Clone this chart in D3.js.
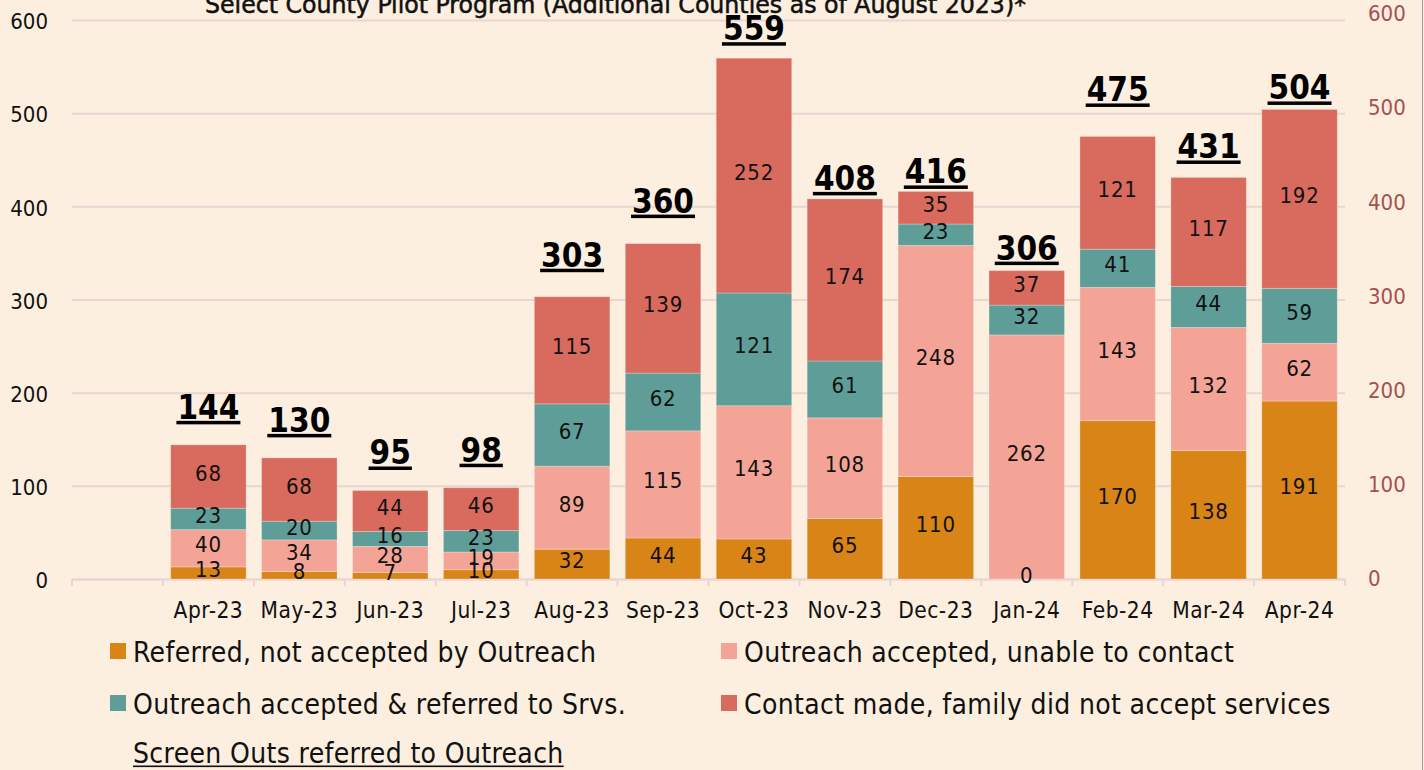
<!DOCTYPE html>
<html><head><meta charset="utf-8">
<script src="https://cdn.jsdelivr.net/npm/d3@7"></script>
<style>
body{margin:0;background:#fcefdf;}
svg{display:block}
text{font-family:'DejaVu Sans Condensed','DejaVu Sans',sans-serif;font-stretch:condensed;}
</style></head><body>
<svg id="chart" width="1424" height="770"></svg>
<script>
(function(){
// ---------- data ----------
const months = ["Apr-23","May-23","Jun-23","Jul-23","Aug-23","Sep-23","Oct-23","Nov-23","Dec-23","Jan-24","Feb-24","Mar-24","Apr-24"];
const referredNotAccepted = [13,8,7,10,32,44,43,65,110,0,170,138,191];
const acceptedUnableToContact = [40,34,28,19,89,115,143,108,248,262,143,132,62];
const acceptedReferredToSrvs = [23,20,16,23,67,62,121,61,23,32,41,44,59];
const contactNotAccepted = [68,68,44,46,115,139,252,174,35,37,121,117,192];
const screenOutTotals = [144,130,95,98,303,360,559,408,416,306,475,431,504];
const seriesNames = ["Referred, not accepted by Outreach","Outreach accepted, unable to contact","Outreach accepted & referred to Srvs.","Contact made, family did not accept services"];
const totalsName = "Screen Outs referred to Outreach";
const yTicks = [0,100,200,300,400,500,600];
const titleText = "Select County Pilot Program (Additional Counties as of August 2023)*";

// ---------- layout / style ----------
const colors = ["#d98416","#f4a496","#5f9e98","#d96a5e"];
const W = 1424, H = 770;
const pLeft = 72, pRight = 1345, pTop = 20, pBottom = 579;
const totalLift = [26,26,26,26,30,31,18,9,8,11,35,19,10]; // manual placement of total labels above bars

const svg = d3.select("#chart");
svg.append("rect").attr("width",W).attr("height",H).attr("fill","#fcefdf");

const x = d3.scaleBand().domain(["", ...months]).range([pLeft,pRight]).paddingInner(0.17).paddingOuter(0.085);
const y = d3.scaleLinear().domain([0,600]).range([pBottom,pTop]);
const yR = d3.scaleLinear().domain([0,600]).range([pBottom-1,13]);

// title (clipped at top)
svg.append("text").attr("x",205).attr("y",13).attr("font-size",24)
  .attr("fill","#111").attr("stroke","#111").attr("stroke-width",0.5)
  .attr("textLength",821).attr("lengthAdjust","spacingAndGlyphs").text(titleText);

// gridlines
svg.append("g").selectAll("line").data(yTicks).join("line")
  .attr("x1",pLeft).attr("x2",pRight).attr("y1",d=>y(d)+0.5).attr("y2",d=>y(d)+0.5)
  .attr("stroke","#ebd5d3").attr("stroke-width",2);

// left axis
const gL = svg.append("g").attr("transform",`translate(${pLeft},0)`)
  .call(d3.axisLeft(y).tickValues(yTicks).tickSize(0).tickPadding(24));
gL.select(".domain").remove();
gL.selectAll("text").attr("font-size",22).attr("fill","#111").attr("font-family","'DejaVu Sans Condensed','DejaVu Sans',sans-serif").attr("dy","0.4em");

// right axis
const gR = svg.append("g").attr("transform",`translate(${pRight},0)`)
  .call(d3.axisRight(yR).tickValues(yTicks).tickSize(0).tickPadding(23));
gR.select(".domain").remove();
gR.selectAll("text").attr("font-size",22).attr("fill","#a4514f").attr("font-family","'DejaVu Sans Condensed','DejaVu Sans',sans-serif").attr("dy","0.35em");

// x axis
const gX = svg.append("g").attr("transform",`translate(0,${pBottom})`)
  .call(d3.axisBottom(x).tickSize(0).tickPadding(23));
gX.select(".domain").attr("stroke","#ebd5d3").attr("stroke-width",2);
gX.selectAll("text").attr("font-size",22.5).attr("letter-spacing","0.5px").attr("fill","#111").attr("font-family","'DejaVu Sans Condensed','DejaVu Sans',sans-serif");
const boundaries = d3.range(0, x.domain().length+1).map(k => pLeft + k*x.step());
gX.selectAll(".bnd").data(boundaries).join("line").attr("class","bnd")
  .attr("x1",d=>d).attr("x2",d=>d).attr("y1",0).attr("y2",7).attr("stroke","#ebd5d3").attr("stroke-width",2);

// stacked bars
const rows = months.map((m,i)=>({month:m, s0:referredNotAccepted[i], s1:acceptedUnableToContact[i], s2:acceptedReferredToSrvs[i], s3:contactNotAccepted[i], total:screenOutTotals[i], i}));
const keys = ["s0","s1","s2","s3"];
const stack = d3.stack().keys(keys)(rows);

const gBars = svg.append("g");
stack.forEach((layer,k)=>{
  gBars.append("g").selectAll("rect").data(layer).join("rect")
    .attr("x",d=>x(d.data.month)).attr("width",x.bandwidth())
    .attr("y",d=>y(d[1])).attr("height",d=>y(d[0])-y(d[1]))
    .attr("fill",colors[k]).attr("stroke","rgba(255,255,255,0.25)").attr("stroke-width",1);
});
stack.forEach((layer,k)=>{
  gBars.append("g").selectAll("text").data(layer).join("text")
    .attr("x",d=>x(d.data.month)+x.bandwidth()/2)
    .attr("y",d=>(y(d[0])+y(d[1]))/2+4)
    .attr("text-anchor","middle").attr("font-size",22).attr("letter-spacing","0.8px").attr("fill","#111")
    .text(d=>d.data[keys[k]]);
});

// totals labels (bold, underlined)
const gT = svg.append("g");
rows.forEach((d,i)=>{
  const topY = y(d.s0+d.s1+d.s2+d.s3);
  const cx = x(d.month)+x.bandwidth()/2;
  const by = topY - totalLift[i];
  const t = gT.append("text").attr("x",cx).attr("y",by).attr("text-anchor","middle")
    .attr("font-size",33).attr("font-weight","bold").attr("fill","#000").text(d.total);
  const w = t.node().getComputedTextLength();
  gT.append("rect").attr("x",cx-w/2-1).attr("y",by+2).attr("width",w+2).attr("height",3.5).attr("fill","#000");
});

// legend
const legendItems = [
  {name:seriesNames[0], c:colors[0], x:110, y:651},
  {name:seriesNames[1], c:colors[1], x:721, y:651},
  {name:seriesNames[2], c:colors[2], x:110, y:703},
  {name:seriesNames[3], c:colors[3], x:721, y:703}
];
const gLeg = svg.append("g");
legendItems.forEach(it=>{
  gLeg.append("rect").attr("x",it.x).attr("y",it.y-8).attr("width",16).attr("height",16).attr("fill",it.c);
  gLeg.append("text").attr("x",it.x+23).attr("y",it.y+10.5).attr("font-size",28).attr("letter-spacing","0.35px").attr("fill","#111").text(it.name);
});
const tl = gLeg.append("text").attr("x",133).attr("y",763).attr("font-size",28).attr("letter-spacing","0.35px").attr("fill","#111").text(totalsName);
const tw = tl.node().getComputedTextLength();
gLeg.append("rect").attr("x",133).attr("y",765.5).attr("width",tw).attr("height",1.6).attr("fill","#111");

// right frame edge
svg.append("line").attr("x1",1422.5).attr("x2",1422.5).attr("y1",0).attr("y2",H).attr("stroke","#9a9a9a").attr("stroke-width",1);
})();
</script>
</body></html>
